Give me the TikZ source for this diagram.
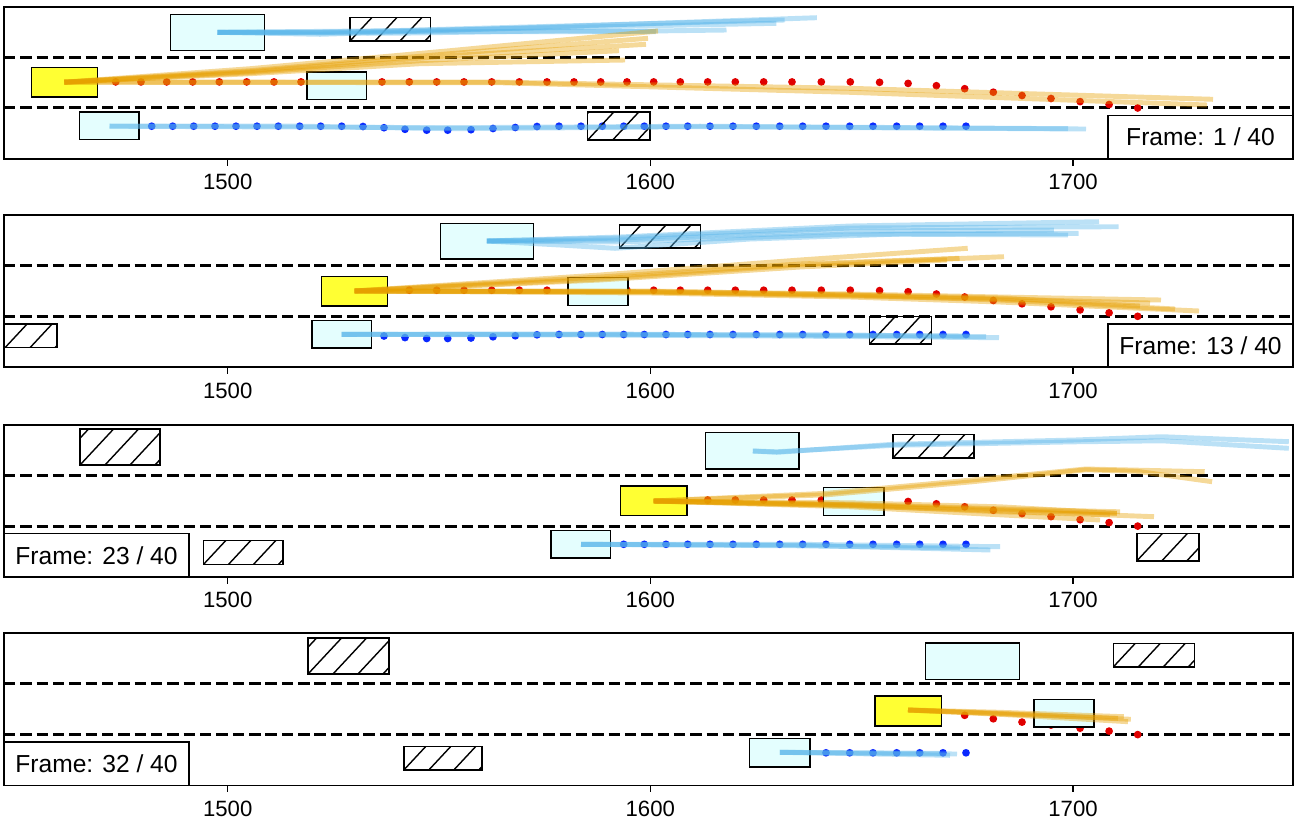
\documentclass[tikz,border=0pt]{standalone}
\usepackage{fontspec}
\setmainfont{Liberation Sans}

\definecolor{carcyan}{HTML}{E4FEFE}
\definecolor{egoyellow}{HTML}{FFFF33}
\definecolor{egoorange}{HTML}{E69F00}
\definecolor{agentblue}{HTML}{56B4E9}
\definecolor{dotred}{HTML}{E00000}
\definecolor{dotblue}{HTML}{0A28FF}

% ground truth of ego and of the agent behind it, one point per frame
\def\egotraj{64.3/75.2, 90/75.2, 115.7/75.2, 141/75.2, 166.7/75.2, 192.7/75.2, 219.3/75.2, 246.7/75.2,
  274/75.2, 301/75.2, 328/75.2, 355/75.2, 382/75.2, 409.3/75.2, 436.7/75.2, 464/75.2, 491.7/75.2,
  519.3/75.2, 547/75.2, 574/75.2, 600.7/75.2, 627/75.2, 653.7/75.2, 680.3/75.2, 707.7/75.2,
  735.3/75.2, 763.7/75.2, 792/75.2, 821.3/75.2, 850.3/75.2, 879.6/75.6, 908.1/76.7, 936.4/79,
  964.7/82, 993.3/85.5, 1022/88.8, 1051/91.8, 1080.1/94.9, 1109.1/97.8, 1137.7/101.3}
\def\agenttraj{109.5/119.5, 130.7/119.5, 151.7/119.5, 172.7/119.5, 193.7/119.5, 215/119.5, 236/119.5,
  257/119.5, 278.3/119.5, 299.7/119.5, 320.7/119.5, 341.7/119.5, 363/119.8, 384/121, 405/122.6,
  426.7/123.5, 447.7/123.5, 471/123, 493/121.8, 515.3/120.8, 537/119.8, 559/119.5, 581/119.5,
  602.3/119.5, 623.7/119.5, 644.3/119.5, 666/119.5, 687.7/119.5, 710/119.5, 733/119.5, 756.3/119.5,
  779.7/119.5, 802.7/119.5, 826/119.5, 849.7/119.5, 873/119.5, 896.7/119.5, 919.7/119.5, 943/119.5,
  966/119.5}

\tikzset{
  laneline/.style={line width=1.7pt, dash pattern=on 6.5pt off 2.8pt},
  axisframe/.style={line width=1.1pt},
  carbox/.style={draw=black, line width=0.9pt, fill=carcyan},
  egobox/.style={draw=black, line width=0.9pt, fill=egoyellow},
  parked/.style={draw=black, line width=0.9pt,
    path picture={
      \foreach \k in {-2,...,5}
        \draw[line width=0.8pt] ([xshift=\k*0.5cm]path picture bounding box.south west) -- ++(47:1.4cm);
    }},
  egopred/.style={egoorange, opacity=0.4, line width=2.8pt, line join=round},
  agentpred/.style={agentblue, opacity=0.4, line width=2.8pt, line join=round},
  egodot/.style={fill=dotred},
  agentdot/.style={fill=dotblue},
  framelabel/.style={draw=black, line width=1pt, fill=white, inner sep=0pt, outer sep=0pt,
    minimum width=3.7cm, minimum height=0.87cm, font=\fontsize{14}{16}\selectfont},
  ticklabel/.style={font=\fontsize{12.6}{15}\selectfont}
}

\begin{document}
\begin{tikzpicture}[x=0.02cm, y=-0.02cm]
\useasboundingbox (0,0) rectangle (1296,836);

% lanes and ground truth dots
\foreach \p/\panely/\startidx in {1/6.7/0, 2/215/11, 3/424.8/22, 4/633.3/31} {
  \begin{scope}[shift={(0,\panely)}]
    \clip (4,0) rectangle (1293,152.2);
    \draw[laneline] (4,50.6) -- (1293,50.6);
    \draw[laneline] (4,101.2) -- (1293,101.2);
    \foreach \x/\y [count=\i from 0] in \egotraj {
      \ifnum\i<\startidx\relax\else \fill[egodot] (\x,\y) circle (2.2pt);\fi
    }
    \foreach \x/\y [count=\i from 0] in \agenttraj {
      \ifnum\i<\startidx\relax\else \fill[agentdot] (\x,\y) circle (2.2pt);\fi
    }
  \end{scope}
}

% frame 1
\begin{scope}[shift={(0,6.7)}]
  \clip (4,0) rectangle (1293,152.2);
  \draw[carbox] (170.7,8) rectangle (264.3,44);
  \draw[parked] (350,11) rectangle (430.7,34.3);
  \draw[egobox] (31.3,60.6) rectangle (97.3,90.3);
  \draw[carbox] (307,65.3) rectangle (366.7,92.6);
  \draw[carbox] (79.7,105.3) rectangle (139,132.6);
  \draw[parked] (587.7,105.3) rectangle (650,133.3);
  \draw[agentpred] (217.5,25.6) -- (320,27.6) -- (500,22) -- (816.9,11);
  \draw[agentpred] (217.5,25.6) -- (320,26) -- (500,21) -- (784.6,13.3);
  \draw[agentpred] (217.5,25.6) -- (400,24) -- (600,20) -- (776.3,16.6);
  \draw[agentpred] (217.5,25.6) -- (400,25) -- (600,25) -- (726.5,23.3);
  \draw[agentpred] (217.5,25.6) -- (400,26.5) -- (560,24) -- (656,25);
  \draw[egopred] (64.3,75.5) -- (250,62) -- (450,44) -- (658,24.3);
  \draw[egopred] (64.3,75.5) -- (250,64) -- (450,47) -- (648,31.6);
  \draw[egopred] (64.3,75.5) -- (250,65) -- (450,49) -- (646,37.6);
  \draw[egopred] (64.3,75.5) -- (250,66) -- (420,54) -- (619,44);
  \draw[egopred] (64.3,75.5) -- (250,67) -- (420,57) -- (625,53.3);
  \draw[egopred] (64.3,75.5) -- (500,75.5) -- (850,81.6) -- (1213,92.6);
  \draw[egopred] (64.3,75.5) -- (500,76) -- (850,85.6) -- (1207,98.3);
  \draw[agentpred] (109.5,119.5) -- (300,119.5) -- (450,122) -- (700,120) -- (1086,122.3);
  \draw[agentpred] (109.5,119.5) -- (450,121) -- (700,119.5) -- (1068,122);
\end{scope}

% frame 13
\begin{scope}[shift={(0,215)}]
  \clip (4,0) rectangle (1293,152.2);
  \draw[carbox] (440.4,8.3) rectangle (533.7,44);
  \draw[parked] (619.5,10) rectangle (700.3,33);
  \draw[egobox] (321.7,61.3) rectangle (387.6,91);
  \draw[carbox] (568,62.7) rectangle (628,90.5);
  \draw[carbox] (311.8,105.7) rectangle (371.5,133);
  \draw[parked] (-20,109) rectangle (56.8,132.7);
  \draw[parked] (869.6,101.3) rectangle (931.4,129);
  \draw[agentpred] (486.8,26) -- (620,22) -- (850,11) -- (1099,6.7);
  \draw[agentpred] (486.8,26) -- (620,23) -- (850,13) -- (1118.5,11.7);
  \draw[agentpred] (486.8,26) -- (560,30) -- (615,33.3) -- (750,24) -- (900,19) -- (1078.5,18.3);
  \draw[agentpred] (486.8,26) -- (620,25) -- (850,16) -- (1053.8,15);
  \draw[agentpred] (486.8,26) -- (620,27) -- (850,19) -- (1068,20);
  \draw[egopred] (354.6,76) -- (600,60) -- (800,45) -- (967.7,33.3);
  \draw[egopred] (354.6,76) -- (600,62) -- (800,49) -- (959.5,43.3);
  \draw[egopred] (354.6,76) -- (600,64) -- (800,50) -- (1004,41.7);
  \draw[egopred] (354.6,76) -- (600,65) -- (800,52) -- (947,45);
  \draw[egopred] (354.6,76) -- (650,76.5) -- (850,79) -- (1000,82) -- (1161,85);
  \draw[egopred] (354.6,76) -- (650,77) -- (850,80) -- (1000,85) -- (1175,94);
  \draw[egopred] (354.6,76) -- (650,78) -- (850,82) -- (1000,87) -- (1199,96);
  \draw[egopred] (354.6,76) -- (650,77) -- (850,81) -- (1000,84) -- (1150,88);
  \draw[egopred] (354.6,76) -- (650,76) -- (850,80) -- (1000,83) -- (1140,91);
  \draw[agentpred] (341.7,119.3) -- (600,119.5) -- (850,120) -- (986,121.7);
  \draw[agentpred] (341.7,119.3) -- (600,120) -- (850,121.5) -- (999,122.7);
  \draw[agentpred] (341.7,119.3) -- (600,119) -- (850,120.5) -- (970,121);
\end{scope}

% frame 23
\begin{scope}[shift={(0,424.8)}]
  \clip (4,0) rectangle (1293,152.2);
  \draw[carbox] (705.5,7.9) rectangle (798.8,44.2);
  \draw[parked] (892.9,9.5) rectangle (974.2,33.2);
  \draw[parked] (80,4.2) rectangle (160,40.2);
  \draw[egobox] (620.6,61.2) rectangle (686.8,90.9);
  \draw[carbox] (823.7,62.9) rectangle (884.2,90.9);
  \draw[carbox] (551,105.9) rectangle (610.7,133.2);
  \draw[parked] (203.6,115.9) rectangle (283.2,139.5);
  \draw[parked] (1137,108.5) rectangle (1199.2,135.9);
  \draw[agentpred] (752.8,26.2) -- (776.8,27.5) -- (892.9,19.5) -- (1075,15.2) -- (1162,11.9) -- (1288.8,16.9);
  \draw[agentpred] (752.8,26.2) -- (776.8,27) -- (892.9,20.5) -- (1075,17) -- (1162,16) -- (1288.8,23.5);
  \draw[egopred] (653.7,76.2) -- (826.6,68.5) -- (971.7,55.2) -- (1085.7,44.2) -- (1204.7,46.9);
  \draw[egopred] (653.7,76.2) -- (826.6,70) -- (971.7,57) -- (1085.7,45) -- (1137,46.5) -- (1212.1,56.9);
  \draw[egopred] (653.7,76.2) -- (850,78) -- (1000,82) -- (1116.8,88.5);
  \draw[egopred] (653.7,76.2) -- (850,80) -- (1000,85) -- (1116.8,88.5);
  \draw[egopred] (653.7,76.2) -- (850,81) -- (1000,86) -- (1154,91.9);
  \draw[egopred] (653.7,76.2) -- (850,82) -- (1000,90) -- (1100,95.2);
  \draw[egopred] (653.7,76.2) -- (850,80.5) -- (1000,87) -- (1110,90);
  \draw[egopred] (653.7,76.2) -- (850,79.5) -- (1000,84) -- (1120,87);
  \draw[agentpred] (581,119.5) -- (800,119.5) -- (1000.2,121.9);
  \draw[agentpred] (581,119.5) -- (800,120.5) -- (990.3,125.2);
  \draw[agentpred] (581,119.5) -- (800,121) -- (960,123);
\end{scope}

% frame 32
\begin{scope}[shift={(0,633.3)}]
  \clip (4,0) rectangle (1293,152.2);
  \draw[parked] (308,4.4) rectangle (388.9,40.7);
  \draw[carbox] (925.6,9.4) rectangle (1019.6,46);
  \draw[parked] (1113.5,10) rectangle (1194.3,33.4);
  \draw[egobox] (875,62.7) rectangle (941.3,92.7);
  \draw[carbox] (1034,66) rectangle (1094.1,93.7);
  \draw[carbox] (749.7,105) rectangle (809.9,133.4);
  \draw[parked] (403.8,113) rectangle (482.2,136.7);
  \draw[egopred] (908,76.7) -- (1000,80) -- (1130.8,86);
  \draw[egopred] (908,76.7) -- (1000,79) -- (1123.8,83.4);
  \draw[egopred] (908,76.7) -- (1000,81) -- (1128,88.4);
  \draw[egopred] (908,76.7) -- (1000,80.5) -- (1118,85);
  \draw[agentpred] (779.8,119) -- (957,120.7);
  \draw[agentpred] (779.8,119) -- (950,122);
  \draw[agentpred] (779.8,119) -- (940,120);
\end{scope}

% axes
\foreach \p/\panely in {1/6.7, 2/215, 3/424.8, 4/633.3} {
  \begin{scope}[shift={(0,\panely)}]
    \draw[axisframe] (4,0) rectangle (1293,152.2);
    \foreach \t/\tx in {1500/227.7, 1600/650.3, 1700/1073} {
      \draw[line width=0.8pt] (\tx,152.2) -- (\tx,158.9);
      \node[ticklabel] (tick\p-\t) at (\tx,175.5) {\t};
    }
  \end{scope}
}

\node[framelabel, anchor=south east] (label1) at (1293,158.9) {Frame: 1 / 40};
\node[framelabel, anchor=south east] (label2) at (1293,367.2) {Frame: 13 / 40};
\node[framelabel, anchor=south west] (label3) at (4,577) {Frame: 23 / 40};
\node[framelabel, anchor=south west] (label4) at (4,785.5) {Frame: 32 / 40};
\end{tikzpicture}
\end{document}
